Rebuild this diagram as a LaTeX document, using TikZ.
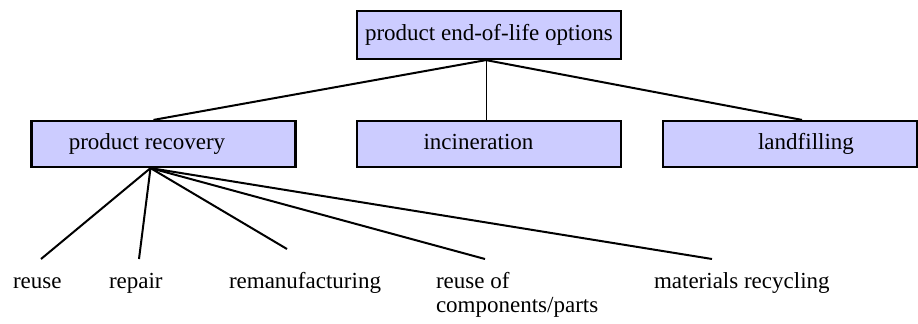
\documentclass[tikz,border=0pt]{standalone}
\usepackage{fontspec}
\setmainfont{Liberation Serif}
\usetikzlibrary{positioning,calc}
\definecolor{lav}{RGB}{204,204,255}
\tikzstyle{opt}=[draw, line width=1.1pt, fill=lav, minimum width=132pt, minimum height=23pt, inner sep=0pt, text height=8pt, text depth=2.5pt, font=\fontsize{11.5pt}{12pt}\selectfont]
\tikzset{leaf/.style={inner sep=0pt,align=left,anchor=base west,font=\fontsize{11.5pt}{12pt}\selectfont}}

\begin{document}
\begin{tikzpicture}[x=0.5pt,y=-0.5pt,node distance=54.5pt,line width=1pt]
    \useasboundingbox (0,0) rectangle (918,323);
    % the four option boxes
    \node [opt, minimum height=24pt] (eol) at (489,35) {product end-of-life options};
    \node [opt] (inc) [below of=eol] {incineration\hspace*{10.5pt}};
    \node [opt] (rec) [left of=inc,node distance=162.75pt] {product recovery\hspace*{16.5pt}};
    \node [opt, minimum width=127pt] (land) [right of=inc,node distance=150.5pt] {\hspace*{16pt}landfilling};
    % recovery options (base of a two-line node is its last line)
    \node [leaf] (reuse) at (12,288) {reuse};
    \node [leaf] (repair) at (108,288) {repair};
    \node [leaf] (reman) at (228,288) {remanufacturing};
    \node [leaf] (parts) at (435,312) {reuse of\\components/parts};
    \node [leaf] (recyc) at (653,288) {materials recycling};
    \coordinate (top) at ([xshift=-1.5pt]eol.south);
    \coordinate (fan) at ([xshift=-6.5pt]rec.south);
    \foreach \n/\x/\y in {reuse/41/259, repair/139/259, reman/287/249, parts/485/259, recyc/712/259}
        \coordinate (\n-end) at (\x,\y);
    \draw (top) -- ([xshift=-5pt]rec.north);
    \draw[line width=0.5pt] (top) -- (top |- inc.north);
    \draw (top) -- ([xshift=6pt]land.north);
    \foreach \n in {reuse,repair,reman,parts,recyc}
        \draw (fan) -- (\n-end);
\end{tikzpicture}
\end{document}
